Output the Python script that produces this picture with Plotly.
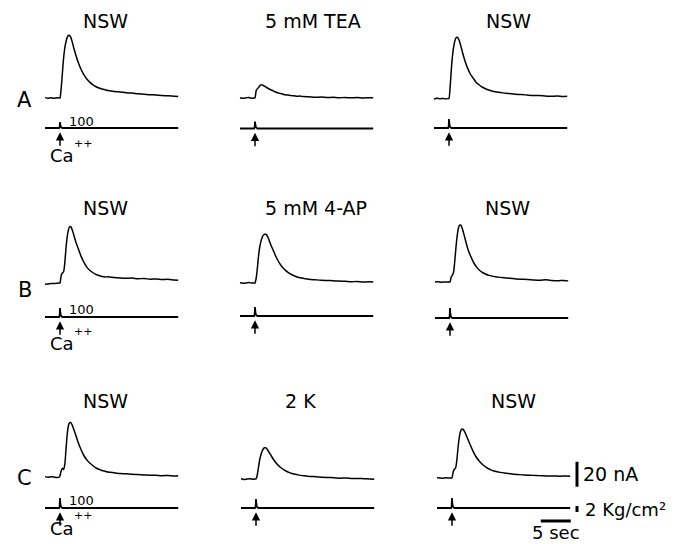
import plotly.graph_objects as go

# ---------------- data (time in s relative to Ca++ pulse, current in nA, pressure in kg/cm2) -------------
T = [-2.5, -2.0, -1.5, -1.0, -0.5, -0.1,
     0.0, 0.2, 0.4, 0.6, 0.8, 1.0, 1.2, 1.4, 1.6, 1.8, 2.0,
     2.3, 2.6, 3.0, 3.5, 4.0, 4.5, 5.0, 5.5, 6.0, 6.5, 7.0, 7.5, 8.0,
     9.0, 10.0, 11.0, 12.0, 13.0, 14.0, 15.0, 16.0, 17.0, 18.0, 19.0, 19.7]

# Row A: NSW / 5 mM TEA / NSW
A1 = [0.3, -0.2, 0.2, -0.3, 0.1, 0.0,
      0.0, 8, 20, 32, 40, 45, 48.5, 50, 50, 48.5, 45.5,
      40, 35, 29, 23, 18.5, 15, 12.5, 10.5, 9, 8, 7.2, 6.6, 6.0,
      5.2, 4.8, 4.2, 3.9, 3.3, 3.0, 2.6, 2.4, 1.9, 1.8, 1.4, 1.2]
A2 = [0.2, -0.3, 0.1, 0.3, -0.2, 0.0,
      0.0, 6, 7.5, 8.5, 9.8, 10.5, 10.5, 10.0, 9.4, 8.8, 8.2,
      7.4, 6.6, 5.8, 4.6, 3.9, 3.4, 2.6, 2.4, 1.9, 1.8, 1.4, 1.5, 1.1,
      0.9, 0.6, 0.8, 0.4, 0.5, 0.2, 0.4, 0.1, 0.3, 0.0, 0.2, 0.1]
A3 = [-0.4, 0.2, -0.2, 0.1, -0.3, 0.0,
      0.0, 10, 24, 35, 42, 46.5, 48.8, 49, 47.5, 45, 41.5,
      36, 31, 25.5, 20, 16.5, 13, 11, 9.2, 8, 7, 6.2, 5.6, 5.2,
      4.5, 4.0, 3.4, 3.2, 2.8, 2.4, 2.5, 2.1, 1.8, 2.0, 1.6, 1.8]
# Row B: NSW / 5 mM 4-AP / NSW
B1 = [-1.0, -0.8, -0.4, -0.5, -0.2, 0.0,
      0.0, 6, 8, 9, 16, 28, 37, 42.5, 45, 45, 43,
      38.5, 33.5, 28, 21.5, 16.5, 12.5, 10, 8.2, 6.8, 6.0, 5.2, 4.8, 5.0,
      4.4, 4.0, 3.8, 3.9, 3.4, 3.6, 3.0, 3.2, 2.8, 3.0, 2.4, 2.2]
B2 = [0.2, -0.2, 0.0, 0.3, -0.1, 0.0,
      0.0, 4, 12, 22, 29, 33.5, 36.5, 38.3, 39, 39, 38,
      35, 31, 26.5, 21, 16.5, 13, 10.5, 8.5, 7, 5.8, 4.8, 4.2, 3.8,
      3.0, 2.6, 2.2, 2.0, 1.8, 1.5, 1.4, 1.0, 1.2, 0.8, 0.9, 0.7]
B3 = [0.0, 0.2, -0.2, 0.1, 0.0, 0.0,
      0.0, 4, 5.5, 8, 17, 28, 37, 43, 45.5, 45.5, 43.5,
      38.5, 33, 26, 20, 15, 11.5, 9, 7.4, 6.2, 5.3, 4.7, 4.3, 3.9,
      3.4, 3.0, 2.4, 2.2, 2.0, 1.6, 1.4, 1.8, 1.2, 1.0, 1.3, 0.9]
# Row C: NSW / 2 K / NSW
C1 = [0.3, -0.2, 0.2, 0.0, -0.4, 0.0,
      1.0, 5, 7, 6, 10, 22, 34, 41, 43.5, 43.5, 42,
      38, 34, 28, 22, 17, 13.5, 11, 9, 7.2, 6.2, 5.2, 4.6, 4.0,
      3.4, 2.8, 2.6, 2.2, 2.0, 1.7, 1.5, 1.4, 1.1, 1.2, 0.8, 1.0]
C2 = [0.2, -0.3, 0.0, 0.2, -0.1, 0.0,
      0.0, 3, 9, 15, 19, 22, 24, 25, 25, 24.2, 22.8,
      20.5, 18, 15, 12, 9.6, 7.8, 6.4, 5.3, 4.4, 3.8, 3.3, 2.9, 2.6,
      2.1, 1.8, 1.4, 1.2, 1.0, 0.7, 0.8, 0.4, 0.5, 0.2, 0.0, -0.2]
C3 = [0.2, 0.0, -0.2, 0.2, 0.0, 0.0,
      0.0, 5, 7, 8, 14, 24, 32, 37, 39, 39, 38,
      35, 31.5, 27, 21.5, 17, 13.8, 11.2, 9.2, 7.6, 6.5, 5.6, 5.0, 4.5,
      3.8, 3.2, 2.8, 2.4, 2.2, 2.0, 1.8, 1.6, 1.7, 1.4, 1.6, 1.5]

# pressure pulse traces
P_T = [-2.5, -0.15, -0.05, 0.0, 0.05, 0.15, 0.4, 19.7]
PA1 = [0, 0, 0.5, 2.0, 1.2, 0.3, 0, 0]
PA2 = [0, 0, 0.6, 2.3, 1.4, 0.4, 0, 0]
PA3 = [0, 0, 0.7, 3.0, 1.6, 0.4, 0, 0]
PB1 = [0, 0, 0.8, 3.0, 1.6, 0.4, 0, 0]
PB2 = [0, 0, 0.8, 3.0, 1.6, 0.4, 0, 0]
PB3 = [0, 0, 0.8, 3.3, 1.7, 0.4, 0, 0]
PC1 = [0, 0, 0.8, 3.3, 1.7, 0.4, 0, 0]
PC2 = [0, 0, 0.8, 3.0, 1.6, 0.4, 0, 0]
PC3 = [0, 0, 0.8, 3.3, 1.7, 0.4, 0, 0]

TITLES = ["NSW", "5 mM TEA", "NSW", "NSW", "5 mM 4-AP", "NSW", "NSW", "2 K", "NSW"]
ROW_LABELS = ["A", "B", "C"]
PULSE_LABEL = "100"
SCALE_NA = 20      # nA
SCALE_KG = 2       # kg/cm2
SCALE_S = 5        # s

CURRENTS = [A1, A2, A3, B1, B2, B3, C1, C2, C3]
PRESSURES = [PA1, PA2, PA3, PB1, PB2, PB3, PC1, PC2, PC3]

# ---------------- geometry / style -------------
W, H = 674, 544
PX_S, PX_NA, PX_KG = 6.0, 1.25, 3.0
# (stim x px, current baseline y px, pressure line y px)
GEOM = [(60, 98, 128), (255, 98, 128.5), (449, 98.5, 128),
        (60, 283, 317), (255, 283, 316), (450, 282, 318),
        (60, 477, 508), (256, 479, 508), (452, 478, 508)]
TITLE_POS = [(105, 21), (313, 21), (508, 21),
             (105, 208), (316, 208), (507, 208),
             (105, 401), (300, 401), (513, 401)]
FONT = "DejaVu Sans"


def fx(px):
    return px / W


def fy(px):
    return 1 - px / H


fig = go.Figure()
layout = dict(width=W, height=H, margin=dict(l=0, r=0, t=0, b=0),
              paper_bgcolor="white", plot_bgcolor="rgba(255,255,255,0)",
              showlegend=False)
annotations = []
shapes = []

for i, (cur, prs) in enumerate(zip(CURRENTS, PRESSURES)):
    stim, base, pline = GEOM[i]
    last = (i == 8)
    xr = 140 if last else 125
    ca, pa = 2 * i + 1, 2 * i + 2
    # current axes
    top, bot = base - 70, base + 12
    layout[f"xaxis{ca}"] = dict(domain=[fx(stim - 20), fx(stim + xr)],
                                range=[-20 / PX_S, xr / PX_S], visible=False,
                                anchor=f"y{ca}", fixedrange=True)
    layout[f"yaxis{ca}"] = dict(domain=[fy(bot), fy(top)],
                                range=[(base - bot) / PX_NA, (base - top) / PX_NA],
                                visible=False, anchor=f"x{ca}", fixedrange=True)
    # pressure axes
    ptop = pline - 14
    pbot = pline + (20 if last else 6)
    layout[f"xaxis{pa}"] = dict(domain=[fx(stim - 20), fx(stim + xr)],
                                range=[-20 / PX_S, xr / PX_S], visible=False,
                                anchor=f"y{pa}", fixedrange=True)
    layout[f"yaxis{pa}"] = dict(domain=[fy(pbot), fy(ptop)],
                                range=[(pline - pbot) / PX_KG, (pline - ptop) / PX_KG],
                                visible=False, anchor=f"x{pa}", fixedrange=True)

    fig.add_trace(go.Scatter(x=T, y=cur, mode="lines", xaxis=f"x{ca}", yaxis=f"y{ca}",
                             line=dict(color="black", width=1.5, shape="spline", smoothing=0.6),
                             hoverinfo="skip"))
    fig.add_trace(go.Scatter(x=P_T, y=prs, mode="lines", xaxis=f"x{pa}", yaxis=f"y{pa}",
                             line=dict(color="black", width=1.8), hoverinfo="skip"))
    # stimulus arrow
    annotations.append(dict(x=0, y=-1.4, xref=f"x{pa}", yref=f"y{pa}", ax=0, ay=15,
                            showarrow=True, arrowhead=2, arrowsize=1.1, arrowwidth=1.5,
                            arrowcolor="black", text=""))
    # title
    tx, ty = TITLE_POS[i]
    annotations.append(dict(x=fx(tx), y=fy(ty), xref="paper", yref="paper",
                            text=TITLES[i], showarrow=False, xanchor="center", yanchor="middle",
                            font=dict(family=FONT, size=19, color="black")))

# row letters and Ca++ / 100 labels for first column
ROW_Y = [(100, 121, 155, 143), (290, 309, 343, 331), (478, 500, 528, 515)]
for r, lab in enumerate(ROW_LABELS):
    ly, hy, cy, py = ROW_Y[r]
    annotations.append(dict(x=fx(25), y=fy(ly), xref="paper", yref="paper", text=lab,
                            showarrow=False, xanchor="center", yanchor="middle",
                            font=dict(family=FONT, size=21, color="black")))
    annotations.append(dict(x=fx(67), y=fy(hy), xref="paper", yref="paper", text=PULSE_LABEL,
                            showarrow=False, xanchor="left", yanchor="middle",
                            font=dict(family=FONT, size=13, color="black")))
    annotations.append(dict(x=fx(48), y=fy(cy), xref="paper", yref="paper", text="Ca",
                            showarrow=False, xanchor="left", yanchor="middle",
                            font=dict(family=FONT, size=18, color="black")))
    annotations.append(dict(x=fx(72), y=fy(py), xref="paper", yref="paper", text="++",
                            showarrow=False, xanchor="left", yanchor="middle",
                            font=dict(family=FONT, size=11, color="black")))

# scale bars on last panel
stim, base, pline = GEOM[8]
tbar = (577 - stim) / PX_S
shapes.append(dict(type="line", xref="x17", yref="y17", x0=tbar, x1=tbar,
                   y0=-7, y1=-7 + SCALE_NA, line=dict(color="black", width=3)))
shapes.append(dict(type="line", xref="x18", yref="y18", x0=tbar, x1=tbar,
                   y0=-1.33, y1=-1.33 + SCALE_KG, line=dict(color="black", width=3)))
shapes.append(dict(type="line", xref="x18", yref="y18", x0=14.8, x1=14.8 + SCALE_S,
                   y0=-4.33, y1=-4.33, line=dict(color="black", width=3)))
annotations.append(dict(x=fx(581), y=fy(474), xref="paper", yref="paper", text=f"{SCALE_NA} nA",
                        showarrow=False, xanchor="left", yanchor="middle",
                        font=dict(family=FONT, size=19, color="black")))
annotations.append(dict(x=fx(583), y=fy(509), xref="paper", yref="paper", text=f"{SCALE_KG} Kg/cm²",
                        showarrow=False, xanchor="left", yanchor="middle",
                        font=dict(family=FONT, size=18, color="black")))
annotations.append(dict(x=fx(556), y=fy(532), xref="paper", yref="paper", text=f"{SCALE_S} sec",
                        showarrow=False, xanchor="center", yanchor="middle",
                        font=dict(family=FONT, size=18, color="black")))

layout["annotations"] = annotations
layout["shapes"] = shapes
fig.update_layout(**layout)
fig.write_html("out.html")
